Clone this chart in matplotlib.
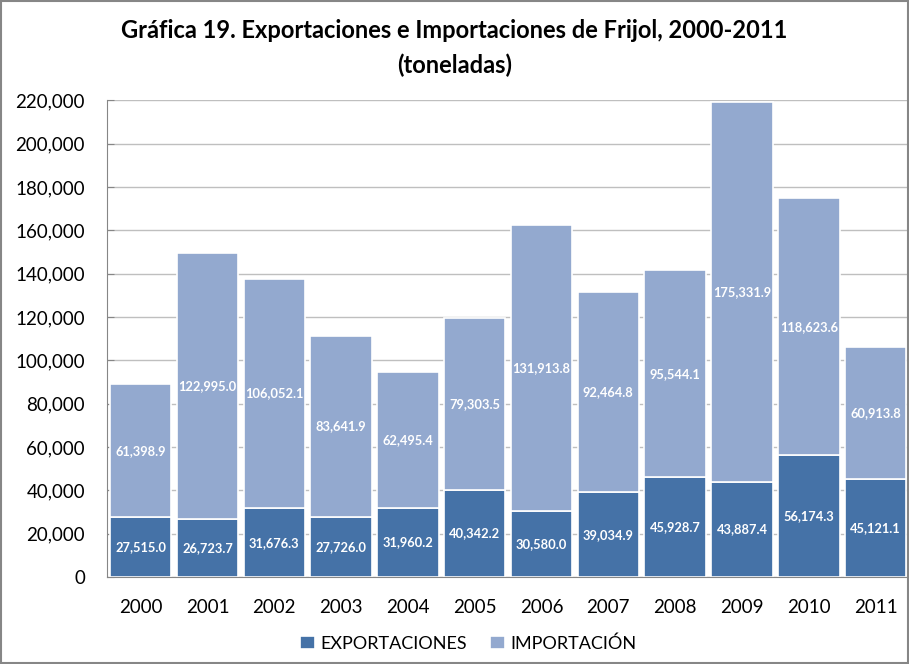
import numpy as np
import matplotlib.pyplot as plt
import matplotlib.ticker as ticker

plt.rcParams['font.family'] = ['Lato', 'DejaVu Sans']

years = ['2000', '2001', '2002', '2003', '2004', '2005', '2006', '2007', '2008', '2009', '2010', '2011']
exportaciones = [27515.0, 26723.7, 31676.3, 27726.0, 31960.2, 40342.2, 30580.0, 39034.9, 45928.7, 43887.4, 56174.3, 45121.1]
importacion = [61398.9, 122995.0, 106052.1, 83641.9, 62495.4, 79303.5, 131913.8, 92464.8, 95544.1, 175331.9, 118623.6, 60913.8]

c_exp = '#4572A7'
c_imp = '#93A9CF'

fig = plt.figure(figsize=(9.09, 6.64), dpi=100)
fig.patch.set_facecolor('white')
ax = fig.add_axes([0.118, 0.131, 0.882, 0.718])

x = np.arange(len(years))
exp = np.array(exportaciones)
imp = np.array(importacion)

ax.bar(x, exp, width=0.92, color=c_exp, edgecolor='white', linewidth=1.2, label='EXPORTACIONES', zorder=2)
ax.bar(x, imp, bottom=exp, width=0.92, color=c_imp, edgecolor='white', linewidth=1.2, label='IMPORTACIÓN', zorder=2)

# data labels centered in each segment
for i in range(len(years)):
    ax.text(x[i], exp[i] / 2, f'{exp[i]:,.1f}', ha='center', va='center',
            color='white', fontsize=9.3, fontweight='bold', zorder=3)
    ax.text(x[i], exp[i] + imp[i] / 2, f'{imp[i]:,.1f}', ha='center', va='center',
            color='white', fontsize=9.3, fontweight='bold', zorder=3)

ax.set_xlim(-0.5, len(years) - 0.5)
ax.set_ylim(0, 220000)
ax.yaxis.set_major_locator(ticker.MultipleLocator(20000))
ax.yaxis.set_major_formatter(ticker.FuncFormatter(lambda v, p: f'{v:,.0f}'))
ax.set_xticks(x)
ax.set_xticklabels(years)
ax.tick_params(axis='y', labelsize=13.5, length=5, direction='in', color='#868686', pad=16)
ax.tick_params(axis='x', labelsize=13.5, length=0, pad=16)
ax.yaxis.grid(True, color='#BFBFBF', linewidth=1, zorder=0)
ax.set_axisbelow(True)

for side in ['top', 'right']:
    ax.spines[side].set_visible(False)
ax.spines['left'].set_color('#868686')
ax.spines['bottom'].set_color('#868686')

fig.suptitle('Gráfica 19. Exportaciones e Importaciones de Frijol, 2000-2011\n(toneladas)',
             fontsize=17, fontweight='bold', y=0.972, linespacing=1.6)

fig.legend(loc='lower center', bbox_to_anchor=(0.515, -0.006), ncol=2, frameon=False,
           fontsize=13, handlelength=0.8, handleheight=0.8, columnspacing=1.3, handletextpad=0.3)

# outer chart border
fig.add_artist(plt.Rectangle((0.001, 0.001), 0.998, 0.997, transform=fig.transFigure,
                             fill=False, edgecolor='#868686', linewidth=1.5))

plt.savefig('out.png', dpi=100)
